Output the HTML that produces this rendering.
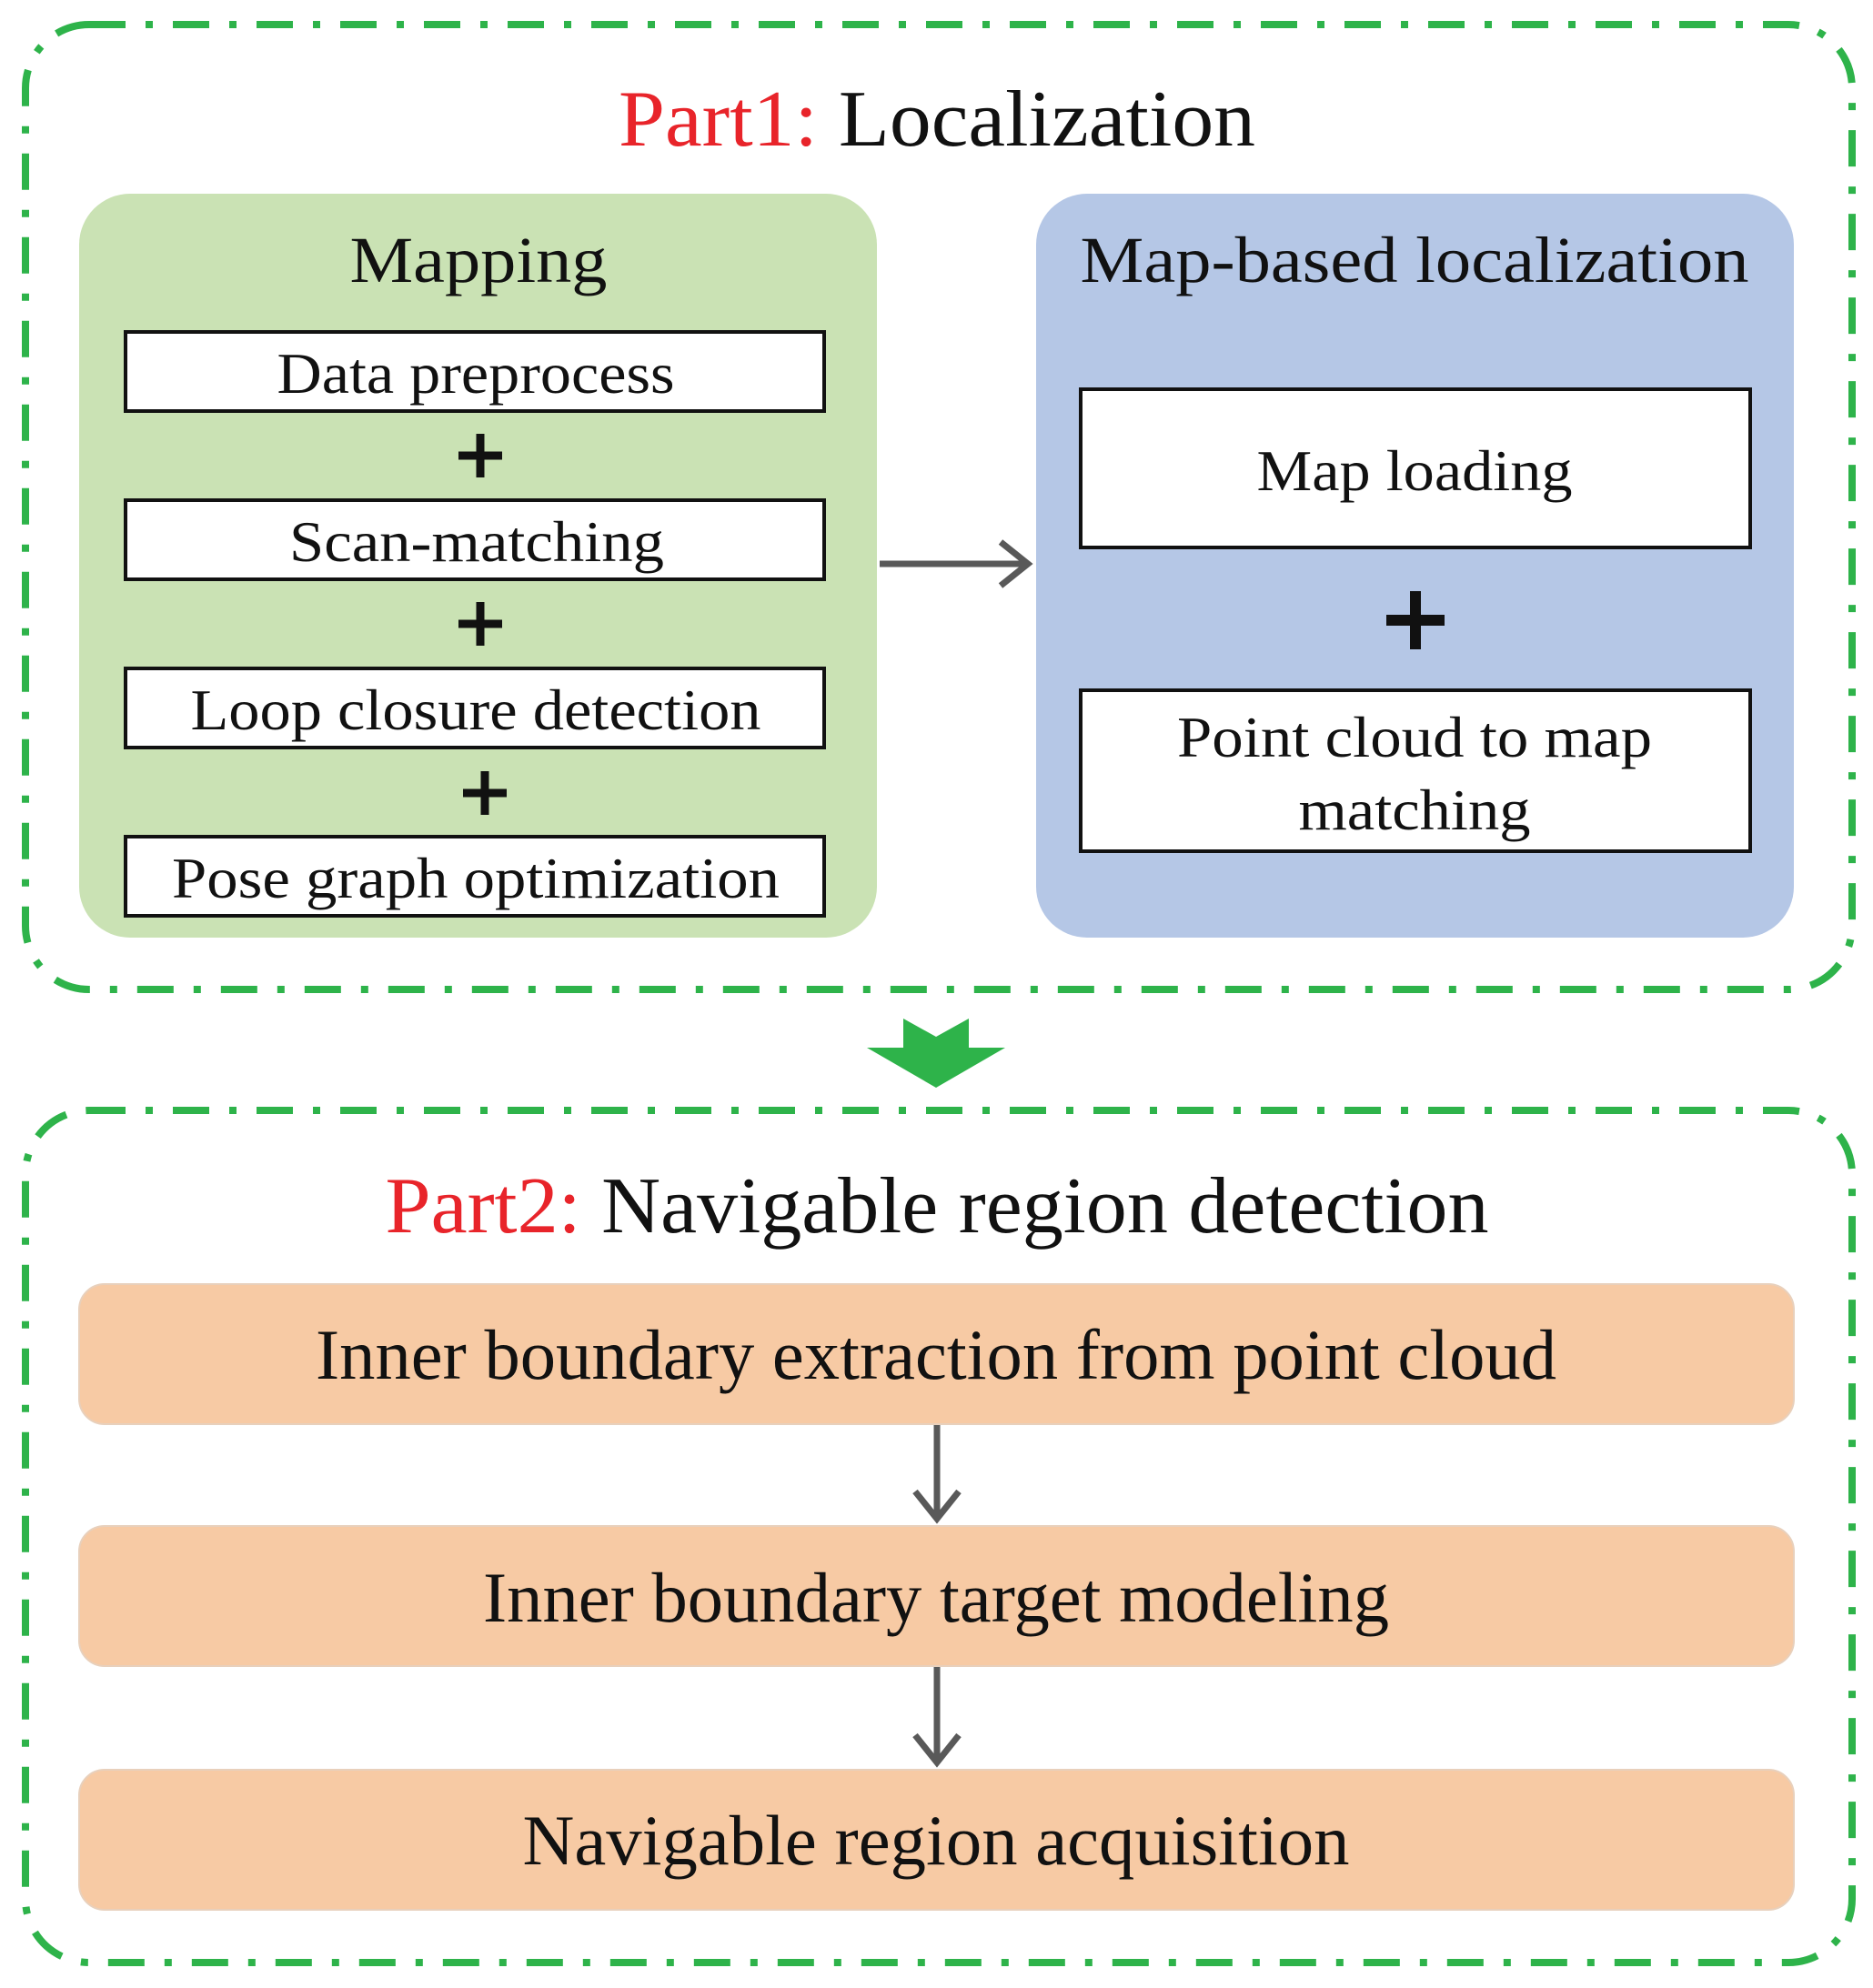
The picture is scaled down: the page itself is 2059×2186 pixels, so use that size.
<!DOCTYPE html>
<html><head><meta charset="utf-8"><style>html,body{margin:0;padding:0;background:#fff}svg{display:block}text{font-family:"Liberation Serif",serif}</style></head>
<body>
<svg width="2059" height="2186" viewBox="0 0 2059 2186" xmlns="http://www.w3.org/2000/svg">
<g fill="none" stroke="#2eb34a" stroke-width="8" stroke-dasharray="40 22 8 22">
<rect x="28" y="27" width="2008" height="1061" rx="70"/>
<rect x="28" y="1221" width="2008" height="937" rx="70"/>
</g>
<text x="1030" y="160" font-size="88" text-anchor="middle" textLength="700" lengthAdjust="spacingAndGlyphs"><tspan fill="#e8242a">Part1: </tspan><tspan fill="#111">Localization</tspan></text>
<rect x="87" y="213" width="877" height="818" rx="56" fill="#cae2b4"/>
<rect x="1139" y="213" width="833" height="818" rx="56" fill="#b5c7e6"/>
<text x="526" y="310" font-size="72" text-anchor="middle" fill="#111" textLength="283" lengthAdjust="spacingAndGlyphs">Mapping</text>
<text x="1555" y="310" font-size="72" text-anchor="middle" fill="#111" textLength="735" lengthAdjust="spacingAndGlyphs">Map-based localization</text>
<g fill="#fff" stroke="#111" stroke-width="4">
<rect x="138" y="365" width="768" height="87"/>
<rect x="138" y="550" width="768" height="87"/>
<rect x="138" y="735" width="768" height="87"/>
<rect x="138" y="920" width="768" height="87"/>
<rect x="1188" y="428" width="736" height="174"/>
<rect x="1188" y="759" width="736" height="177"/>
</g>
<g font-size="64" text-anchor="middle" fill="#111">
<text x="523" y="432" textLength="437" lengthAdjust="spacingAndGlyphs">Data preprocess</text>
<text x="524" y="617" textLength="412" lengthAdjust="spacingAndGlyphs">Scan-matching</text>
<text x="523" y="802" textLength="627" lengthAdjust="spacingAndGlyphs">Loop closure detection</text>
<text x="523" y="987" textLength="668" lengthAdjust="spacingAndGlyphs">Pose graph optimization</text>
<text x="1555" y="539" textLength="347" lengthAdjust="spacingAndGlyphs">Map loading</text>
<text x="1555" y="832" textLength="522" lengthAdjust="spacingAndGlyphs">Point cloud to map</text>
<text x="1555" y="912" textLength="255" lengthAdjust="spacingAndGlyphs">matching</text>
</g>
<g stroke="#111" stroke-linecap="butt">
<path d="M528 477v48M504 501h48" stroke-width="9"/>
<path d="M528 662v48M504 686h48" stroke-width="9"/>
<path d="M533 848v48M509 872h48" stroke-width="9"/>
<path d="M1556 650v64M1524 682h64" stroke-width="12"/>
</g>
<g stroke="#595959" stroke-width="7" fill="none">
<path d="M967 620H1130M1100 596l30 24-30 24"/>
<path d="M1030 1567V1670M1006 1640l24 30 24-30"/>
<path d="M1030 1833V1938M1006 1908l24 30 24-30"/>
</g>
<polygon points="993,1120 1065,1120 1065,1152 1105,1152 1029,1196 953,1152 993,1152" fill="#2eb34a"/>
<polygon points="993,1120 1029,1140 1065,1120" fill="#fff"/>
<text x="1030" y="1355" font-size="88" text-anchor="middle" textLength="1213" lengthAdjust="spacingAndGlyphs"><tspan fill="#e8242a">Part2: </tspan><tspan fill="#111">Navigable region detection</tspan></text>
<g fill="#f7caa4" stroke="#e8d0bc" stroke-width="2">
<rect x="87" y="1412" width="1885" height="154" rx="28"/>
<rect x="87" y="1678" width="1885" height="154" rx="28"/>
<rect x="87" y="1946" width="1885" height="154" rx="28"/>
</g>
<g font-size="78" text-anchor="middle" fill="#111">
<text x="1029" y="1516" textLength="1364" lengthAdjust="spacingAndGlyphs">Inner boundary extraction from point cloud</text>
<text x="1029" y="1783" textLength="996" lengthAdjust="spacingAndGlyphs">Inner boundary target modeling</text>
<text x="1029" y="2050" textLength="909" lengthAdjust="spacingAndGlyphs">Navigable region acquisition</text>
</g>
</svg>
</body></html>
